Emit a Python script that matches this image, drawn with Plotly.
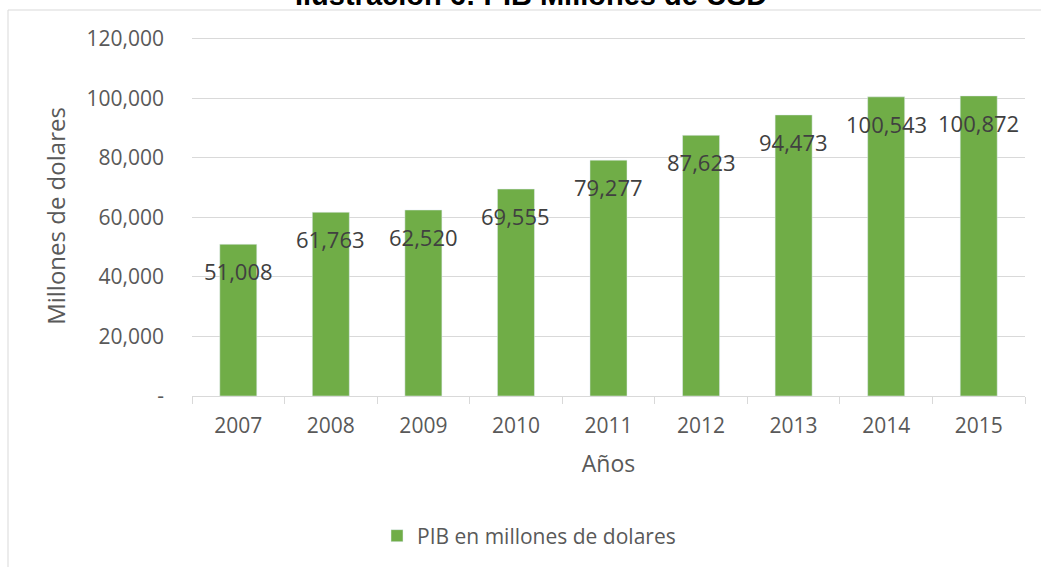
import plotly.graph_objects as go

# datos
anios = [2007, 2008, 2009, 2010, 2011, 2012, 2013, 2014, 2015]
pib = [51008, 61763, 62520, 69555, 79277, 87623, 94473, 100543, 100872]
y_ticks = [0, 20000, 40000, 60000, 80000, 100000, 120000]
y_tick_text = ["-", "20,000", "40,000", "60,000", "80,000", "100,000", "120,000"]

verde = "#70AD47"
gris = "#595959"
fuente = "Open Sans"

# geometria del area de trazado (pixeles)
L, R, T, B = 192, 1025, 36, 396
W, H = R - L, B - T

fig = go.Figure(data=[go.Bar(
    x=anios,
    y=pib,
    width=0.4,
    name="PIB en millones de dolares",
    marker_color=verde,
    showlegend=True,
)])

# etiquetas de datos dentro del extremo de la barra, como en Excel
for a, v in zip(anios, pib):
    fig.add_annotation(
        x=a, y=v, text=f"{v:,}", showarrow=False,
        xanchor="center", yanchor="top", yshift=-10,
        font=dict(family=fuente, size=22, color="#404040"),
    )

# titulo cortado arriba, como en la imagen original
fig.add_annotation(
    text="<b>Ilustración 6: PIB Millones de USD</b>",
    xref="paper", yref="paper", x=(531 - L) / W, y=(B - 13) / H,
    xanchor="center", yanchor="bottom", showarrow=False,
    font=dict(family="Liberation Sans", size=29, color="black"),
)

# marcas del eje x entre categorias
limites = [a - 0.5 for a in anios] + [anios[-1] + 0.5]

fig.update_layout(
    width=1041, height=567,
    margin=dict(l=L, r=1041 - R, t=T, b=567 - B, autoexpand=False),
    paper_bgcolor="white",
    plot_bgcolor="white",
    font=dict(family=fuente, size=21, color=gris),
    xaxis=dict(
        type="linear",
        range=[anios[0] - 0.5, anios[-1] + 0.5],
        tickvals=anios, ticktext=[str(a) for a in anios],
        title=dict(text="Años", font=dict(size=23, color=gris), standoff=17),
        showline=True, linecolor="#D9D9D9", linewidth=1,
        ticks="", ticklabelstandoff=11,
        tickfont=dict(size=21, color=gris),
        minor=dict(tickvals=limites, ticks="outside", ticklen=7,
                   tickcolor="#D9D9D9", showgrid=False),
        showgrid=False, zeroline=False,
    ),
    yaxis=dict(
        title=dict(text="Millones de dolares", font=dict(size=24, color=gris), standoff=14),
        range=[0, 121000],
        tickvals=y_ticks, ticktext=y_tick_text,
        tickfont=dict(size=21, color=gris),
        showgrid=True, gridcolor="#D9D9D9", gridwidth=1,
        zeroline=False, showline=False,
        ticklabelstandoff=27,
    ),
    legend=dict(
        orientation="h", x=(377 - L) / W, xanchor="left",
        y=(B - 536) / H, yanchor="middle",
        font=dict(size=21, color=gris),
    ),
)

# marco del area del grafico
fig.add_shape(
    type="rect", xref="paper", yref="paper",
    x0=(8 - L) / W, x1=(1050 - L) / W,
    y0=(B - 580) / H, y1=(B - 10) / H,
    line=dict(color="#D9D9D9", width=1),
    fillcolor="rgba(0,0,0,0)", layer="below",
)

fig.write_html("out.html", config={"displayModeBar": False},
               post_script="document.body.style.margin='0';")
